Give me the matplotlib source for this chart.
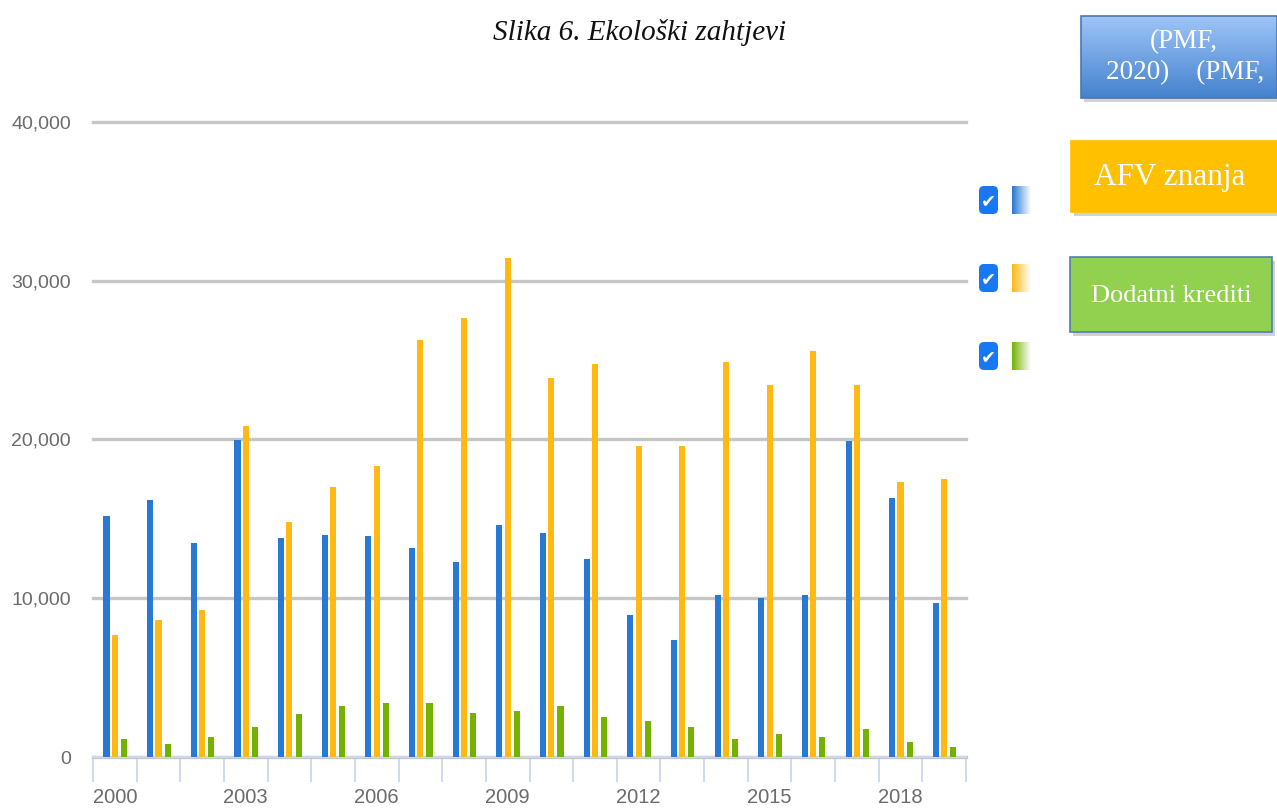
import numpy as np
import matplotlib
matplotlib.use("Agg")
import matplotlib.pyplot as plt
from matplotlib.patches import Rectangle, FancyBboxPatch

# data
years = [str(y) for y in range(2000, 2020)]
blue_vals = [15200, 16200, 13500, 19950, 13800, 14000, 13950, 13150, 12300, 14600,
             14100, 12500, 8950, 7350, 10200, 10000, 10200, 19900, 16300, 9700]
orange_vals = [7700, 8650, 9250, 20850, 14800, 17000, 18300, 26250, 27650, 31450,
               23900, 24750, 19580, 19580, 24900, 23450, 25550, 23450, 17350, 17500]
green_vals = [1150, 820, 1280, 1900, 2730, 3230, 3380, 3380, 2750, 2920,
              3200, 2550, 2250, 1900, 1130, 1420, 1260, 1750, 950, 650]
y_ticks = [0, 10000, 20000, 30000, 40000]
y_tick_labels = ["0", "10,000", "20,000", "30,000", "40,000"]

title = "Slika 6. Ekološki zahtjevi"
box_texts = ["(PMF,", "2020)    (PMF,", "AFV znanja", "Dodatni krediti"]

c_blue = "#2878d6"
c_orange = "#ffb912"
c_green = "#74b200"
lab_col = "#6b6b6b"
sans = ["Liberation Sans", "DejaVu Sans"]
serif = ["Liberation Serif", "DejaVu Serif"]

W, H = 1277, 808
fig = plt.figure(figsize=(W / 100, H / 100), dpi=100)
fig.patch.set_facecolor("white")

ax = fig.add_axes([93 / W, 51 / H, (966 - 93) / W, (757 - 122) / H])
x = np.arange(len(years))
bw = 0.14
ax.bar(x - 0.19, blue_vals, bw, color=c_blue, zorder=3)
ax.bar(x, orange_vals, bw, color=c_orange, zorder=3)
ax.bar(x + 0.21, green_vals, bw, color=c_green, zorder=3)

ax.set_xlim(-0.5, len(years) - 0.5)
ax.set_ylim(0, 40000)
ax.set_yticks(y_ticks)
ax.set_yticklabels(y_tick_labels, family=sans, fontsize=14, color=lab_col)
ax.yaxis.grid(True, color="#c6c6c6", linewidth=2.4, zorder=0)
for gl in ax.get_ygridlines():
    gl.set_clip_on(False)
ax.tick_params(axis="y", length=0, pad=16)

ax.set_xticks(x[::3])
ax.set_xticklabels(years[::3], family=sans, fontsize=14.5, color=lab_col)
ax.set_xticks(np.arange(-0.5, len(years), 1), minor=True)
ax.tick_params(axis="x", which="major", length=0, pad=22)
ax.tick_params(axis="x", which="minor", length=18, width=1.3, color="#cdd7ec")

for s in ["left", "right", "top"]:
    ax.spines[s].set_visible(False)
ax.spines["bottom"].set_color("#cdd7ec")
ax.spines["bottom"].set_linewidth(1.6)
ax.set_facecolor("none")

# overlay in pixel coordinates for title and side elements
ov = fig.add_axes([0, 0, 1, 1], zorder=5)
ov.set_xlim(0, W)
ov.set_ylim(H, 0)
ov.axis("off")
ov.set_facecolor("none")

ov.text(640, 33, title, family=serif, style="italic", fontsize=21,
        ha="center", va="center", color="#111111")

# legend checkboxes with fading swatches
for yc, col in zip([200, 278, 356], [c_blue, c_orange, c_green]):
    ov.add_patch(FancyBboxPatch((979, yc - 14), 19, 28,
                                boxstyle="round,pad=0,rounding_size=5",
                                facecolor="#1877f2", edgecolor="none"))
    ov.text(988.5, yc + 1, "\u2714", color="white", fontsize=13,
            ha="center", va="center", family="DejaVu Sans")
    rgb = np.array(matplotlib.colors.to_rgb(col))
    t = np.linspace(0, 1, 40)[None, :, None]
    grad = rgb * (1 - t) + t * 1.0
    grad = np.repeat(grad, 2, axis=0)
    ov.imshow(grad, extent=(1012, 1031, yc + 14, yc - 14), aspect="auto", zorder=2)

# text boxes on the right
def shadow_box(x0, y0, w, h, face, edge):
    ov.add_patch(Rectangle((x0 + 3, y0 + 4), w, h, facecolor="#000000",
                           alpha=0.18, edgecolor="none", zorder=1))
    ov.add_patch(Rectangle((x0, y0), w, h, facecolor=face, edgecolor=edge,
                           linewidth=1.2, zorder=2))

# blue gradient box
ov.add_patch(Rectangle((1084, 20), 196, 82, facecolor="#000000", alpha=0.18,
                       edgecolor="none", zorder=1))
top = np.array([0.62, 0.77, 0.97])
bot = np.array([0.27, 0.51, 0.81])
s = np.linspace(0, 1, 60)[:, None, None]
vg = top * (1 - s) + bot * s
ov.imshow(vg, extent=(1081, 1277, 98, 16), aspect="auto", zorder=2)
ov.add_patch(Rectangle((1081, 16), 196, 82, facecolor="none", edgecolor="#4a78b0",
                       linewidth=1.2, zorder=3))
ov.text(1184, 42, box_texts[0], family=serif, fontsize=19.5, color="white",
        ha="center", va="center", zorder=4)
ov.text(1185, 73, box_texts[1], family=serif, fontsize=19.5, color="white",
        ha="center", va="center", zorder=4)

shadow_box(1071, 141, 210, 71, "#ffc000", "#ffc000")
ov.text(1170, 178, box_texts[2], family=serif, fontsize=22.5, color="white",
        ha="center", va="center", zorder=4)

shadow_box(1070, 257, 202, 75, "#92d050", "#4f7fb5")
ov.text(1171, 296, box_texts[3], family=serif, fontsize=19, color="white",
        ha="center", va="center", zorder=4)

ov.set_xlim(0, W)
ov.set_ylim(H, 0)

fig.savefig("out.png", dpi=100)
